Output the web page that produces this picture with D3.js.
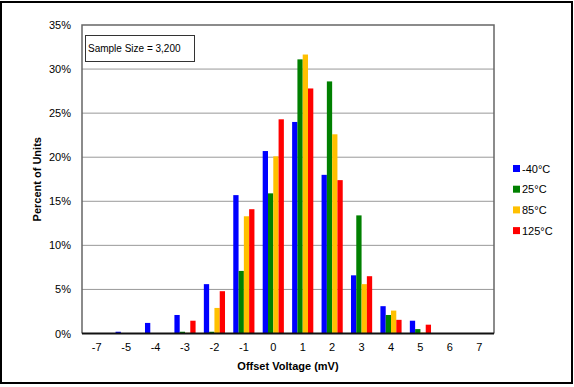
<!DOCTYPE html>
<html><head><meta charset="utf-8">
<script src="https://cdn.jsdelivr.net/npm/d3@7"></script>
<style>
body{margin:0;background:#fff;}
text{font-family:"Liberation Sans",Arial,sans-serif;}
</style></head>
<body><svg id="c" width="574" height="387"></svg>
<script>
const categories = ["-7","-5","-4","-3","-2","-1","0","1","2","3","4","5","6","7"];
const seriesNames = ["-40°C","25°C","85°C","125°C"];
const seriesColors = ["#0000FF","#008000","#FFC000","#FF0000"];
const valsM40 = [0,0.2,1.2,2.1,5.6,15.7,20.7,24.0,18.0,6.6,3.1,1.45,0.05,0];
const vals25  = [0,0,0,0.2,0.2,7.1,15.9,31.1,28.6,13.4,2.1,0.5,0,0];
const vals85  = [0,0,0,0.08,2.9,13.3,20.1,31.65,22.6,5.6,2.6,0.1,0,0];
const vals125 = [0,0,0,1.45,4.8,14.1,24.3,27.8,17.4,6.5,1.55,1.0,0,0];
const yTicks = [0,5,10,15,20,25,30,35];
const allVals = [valsM40, vals25, vals85, vals125];

const svg = d3.select("#c");
const L=82, R=494, T=25, B=333.5;

svg.append("rect").attr("x",1).attr("y",2).attr("width",571).attr("height",381)
  .attr("fill","#fff").attr("stroke","#000").attr("stroke-width",2);

const x0 = d3.scaleBand().domain(categories).range([L,R]).padding(0);
const x1 = d3.scaleBand().domain(seriesNames).range([0,x0.bandwidth()]).paddingInner(0).paddingOuter(0.78);
const y = d3.scaleLinear().domain([0,35]).range([B,T]);

// gridlines
svg.append("g").selectAll("line").data(yTicks.filter(t=>t>0&&t<35)).join("line")
  .attr("x1",L).attr("x2",R).attr("y1",d=>y(d)).attr("y2",d=>y(d))
  .attr("stroke","#999").attr("stroke-width",1);

// plot frame
svg.append("path").attr("d",`M${L},${B}V${T}H${R}V${B}`).attr("fill","none")
  .attr("stroke","#666").attr("stroke-width",1.5);

// bars
const rows = categories.map((c,i)=>({c, v: allVals.map((a,j)=>({s:seriesNames[j], v:a[i], col:seriesColors[j]}))}));
const g = svg.append("g").selectAll("g").data(rows).join("g")
  .attr("transform",d=>`translate(${x0(d.c)},0)`);
g.selectAll("rect").data(d=>d.v).join("rect")
  .attr("x",d=>x1(d.s)).attr("width",x1.bandwidth())
  .attr("y",d=>y(d.v)).attr("height",d=>B-y(d.v))
  .attr("fill",d=>d.col);

// bottom axis line
svg.append("line").attr("x1",L).attr("x2",R).attr("y1",B).attr("y2",B)
  .attr("stroke","#111").attr("stroke-width",2);

// y axis
const ya = svg.append("g").attr("transform",`translate(${L},0)`)
  .call(d3.axisLeft(y).tickValues(yTicks).tickFormat(d=>d+"%").tickSize(0).tickPadding(11));
ya.select(".domain").remove();
ya.selectAll("text").attr("font-size",11).attr("font-family","Liberation Sans, Arial, sans-serif").attr("fill","#000");

// x axis
const xa = svg.append("g").attr("transform",`translate(0,${B})`)
  .call(d3.axisBottom(x0).tickSize(0).tickPadding(10));
xa.select(".domain").remove();
xa.selectAll("text").attr("font-size",11).attr("font-family","Liberation Sans, Arial, sans-serif").attr("fill","#000");

// axis titles
svg.append("text").attr("x",(L+R)/2).attr("y",370).attr("text-anchor","middle")
  .attr("font-size",11).attr("font-weight","bold").text("Offset Voltage (mV)");
svg.append("text").attr("transform",`translate(41,${(T+B)/2}) rotate(-90)`).attr("text-anchor","middle")
  .attr("font-size",11).attr("font-weight","bold").text("Percent of Units");

// sample size box
svg.append("rect").attr("x",85.5).attr("y",35.5).attr("width",109).attr("height",26)
  .attr("fill","#fff").attr("stroke","#333").attr("stroke-width",1);
svg.append("text").attr("x",88).attr("y",52).attr("font-size",10).text("Sample Size = 3,200");

// legend
const lg = svg.append("g").selectAll("g").data(seriesNames).join("g")
  .attr("transform",(d,i)=>`translate(513,${168.5+i*20.7})`);
lg.append("rect").attr("x",0).attr("y",-3.5).attr("width",7).attr("height",7).attr("fill",(d,i)=>seriesColors[i]);
lg.append("text").attr("x",9).attr("y",4).attr("font-size",11).text(d=>d);
</script></body></html>
